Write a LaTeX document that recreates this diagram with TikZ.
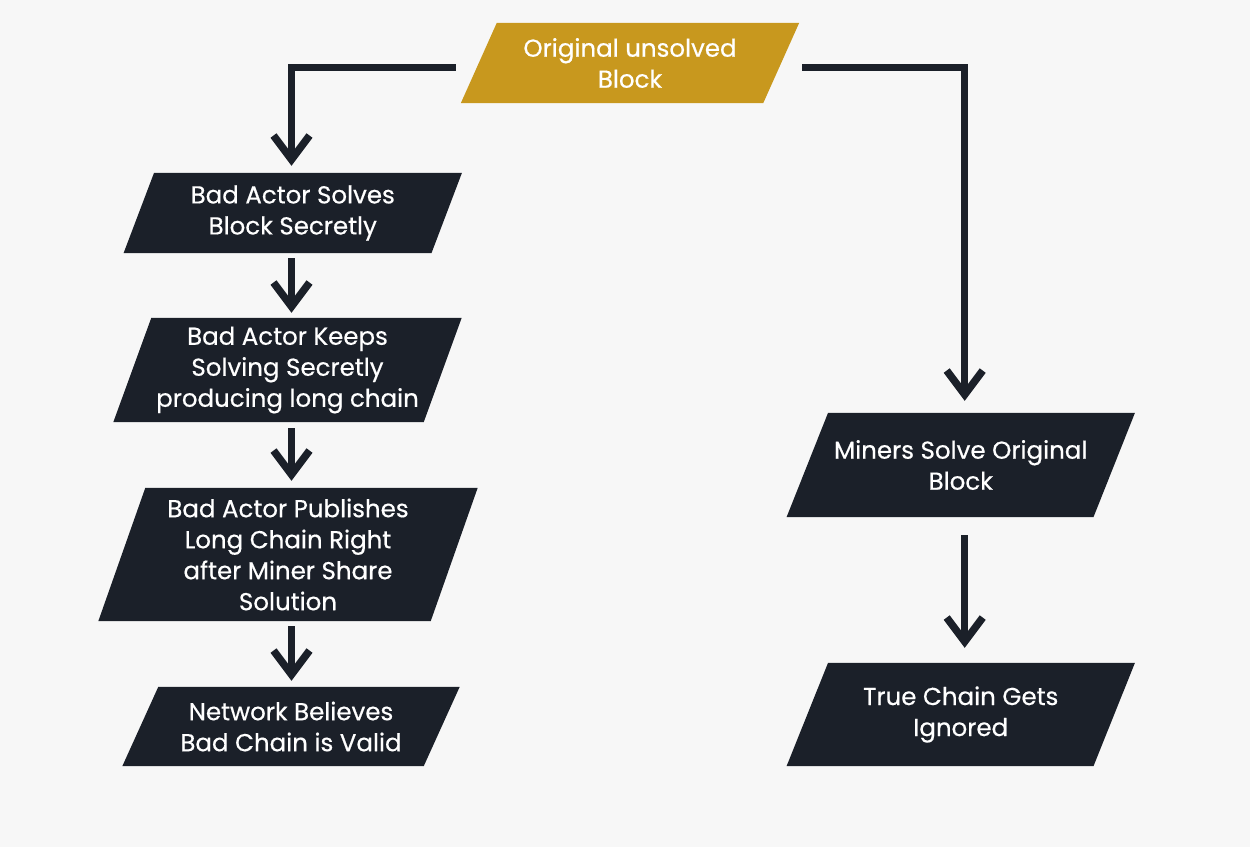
\documentclass[tikz,border=0pt]{standalone}
\usepackage{fontspec}
\setmainfont{Poppins}
\newfontfamily\medfont{Poppins}[FakeBold=0.5]
\usetikzlibrary{arrows.meta,backgrounds}
\definecolor{bg}{HTML}{F7F7F7}
\definecolor{dark}{HTML}{1B2029}
\definecolor{gold}{HTML}{C8981E}
\newcommand\pgram[3]{%
  \begin{scope}[on background layer]
  \fill[#3] ([xshift=-#2]#1.south west) -- ([xshift=-#2]#1.south east) -- ([xshift=#2]#1.north east) -- ([xshift=#2]#1.north west) -- cycle;
  \end{scope}}
\begin{document}
\begin{tikzpicture}[x=1pt,y=-1pt,
  box/.style={rectangle,inner sep=0pt,text=white,align=center,
    font=\medfont\fontsize{24.5}{31}\selectfont},
  conn/.style={draw=dark,line width=7.5pt,-{Straight Barb[length=24pt,width=36pt]}}]
\begin{scope}[on background layer]
\fill[bg] (0,0) rectangle (1250,847);
\end{scope}
\useasboundingbox (0,0) rectangle (1250,847);
\node[box,minimum width=302pt,minimum height=80pt] (top) at (630,63) {Original unsolved\\Block};
\pgram{top}{18pt}{gold}
\node[box,minimum width=307.5pt,minimum height=80pt] (b1) at (292.75,213) {Bad Actor Solves\\Block Secretly};
\pgram{b1}{15.25pt}{dark}
\node[box,minimum width=310pt,minimum height=104pt] (b2) at (287.5,370) {Bad Actor Keeps\\Solving Secretly\\producing long chain};
\pgram{b2}{19pt}{dark}
\node[box,minimum width=332pt,minimum height=133pt] (b3) at (288,554.5) {Bad Actor Publishes\\Long Chain Right\\after Miner Share\\Solution};
\pgram{b3}{23.5pt}{dark}
\node[box,minimum width=301pt,minimum height=79pt] (b4) at (291,726.5) {Network Believes\\Bad Chain is Valid};
\pgram{b4}{18pt}{dark}
\node[box,minimum width=306.5pt,minimum height=104pt] (r1) at (960.75,465) {Miners Solve Original\\Block};
\pgram{r1}{20.75pt}{dark}
\node[box,minimum width=306.5pt,minimum height=103pt] (r2) at (960.75,714.5) {True Chain Gets\\Ignored};
\pgram{r2}{20.75pt}{dark}
\coordinate (colL) at (291.5,0);
\coordinate (colR) at (964.7,0);
\draw[conn] ([xshift=-23pt,yshift=-4.5pt]top.west) -| ([yshift=7pt]colL |- b1.north);
\draw[conn] ([xshift=21pt,yshift=-4.5pt]top.east) -| ([yshift=12pt]colR |- r1.north);
\draw[conn] ([yshift=-5pt]colL |- b1.south) -- ([yshift=5pt]colL |- b2.north);
\draw[conn] ([yshift=-6pt]colL |- b2.south) -- ([yshift=7pt]colL |- b3.north);
\draw[conn] ([yshift=-5pt]colL |- b3.south) -- ([yshift=6pt]colL |- b4.north);
\draw[conn] ([yshift=-18pt]colR |- r1.south) -- ([yshift=15pt]colR |- r2.north);
\end{tikzpicture}
\end{document}
